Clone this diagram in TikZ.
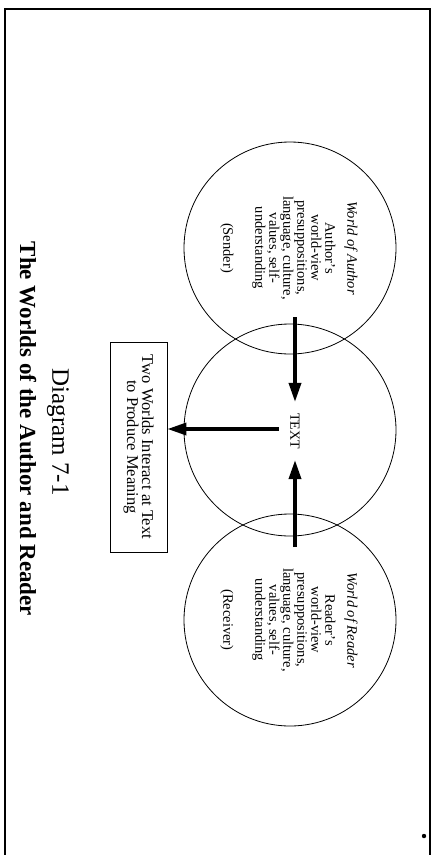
\documentclass[tikz,border=0pt]{standalone}
\usepackage{fontspec}
\setmainfont{Liberation Serif}
\usetikzlibrary{arrows.meta}

\tikzset{
  world/.style={circle, draw, line width=0.8pt, minimum size=212pt, inner sep=0pt,
    rotate=-90, align=center, font=\fontsize{14.5}{14}\selectfont},
  flow/.style={line width=3.5pt, -{Triangle[length=19pt,width=12pt]}},
}

\begin{document}
\begin{tikzpicture}[x=1pt, y=-1pt]
  \useasboundingbox (0,0) rectangle (433,855);
  \draw[line width=1.5pt] (5,855) -- (5,9) -- (430,9) -- (430,855);
  \fill (424,836) circle (2.2);
  % the three worlds
  \node[world] (author) at (290,248) {};
  \node[world] (middle) at (290,430) {};
  \node[world] (reader) at (290,620) {};
  \node[world, draw=none, minimum size=0pt] (author text) at (289,248) {\textit{World of Author}\\[8pt]
    Author's\\ world-view\\ presuppositions,\\ language, culture,\\
    values, self-\\ understanding\\[18pt] (Sender)};
  \node[world, draw=none, minimum size=0pt] (reader text) at (289,620) {\textit{World of Reader}\\[8pt]
    Reader's\\ world-view\\ presuppositions,\\ language, culture,\\
    values, self-\\ understanding\\[18pt] (Receiver)};
  \node[rotate=-90, inner xsep=11pt, font=\fontsize{14}{14}\selectfont] (text) at (295,431) {TEXT};
  \node[draw, rotate=-90, line width=0.8pt, minimum width=210pt, minimum height=57pt,
    align=center, font=\fontsize{16.5}{15}\selectfont] (note) at (138.5,447)
    {Two Worlds Interact at Text\\ to Produce Meaning};
  % arrows
  \coordinate (from author) at (295,317);
  \coordinate (from reader) at (295,547);
  \coordinate (from text) at (279,429);
  \draw[flow] (from author) -- (text.west);
  \draw[flow] (from reader) -- (text.east);
  \draw[flow] (from text) -- (from text -| note.north);
  % caption
  \node[rotate=-90, font=\fontsize{25}{25}\selectfont] (caption) at (58,432) {Diagram 7-1};
  \node[rotate=-90, font=\fontsize{23}{23}\selectfont\bfseries] (title) at (28,429)
    {The Worlds of the Author and Reader};
\end{tikzpicture}
\end{document}
